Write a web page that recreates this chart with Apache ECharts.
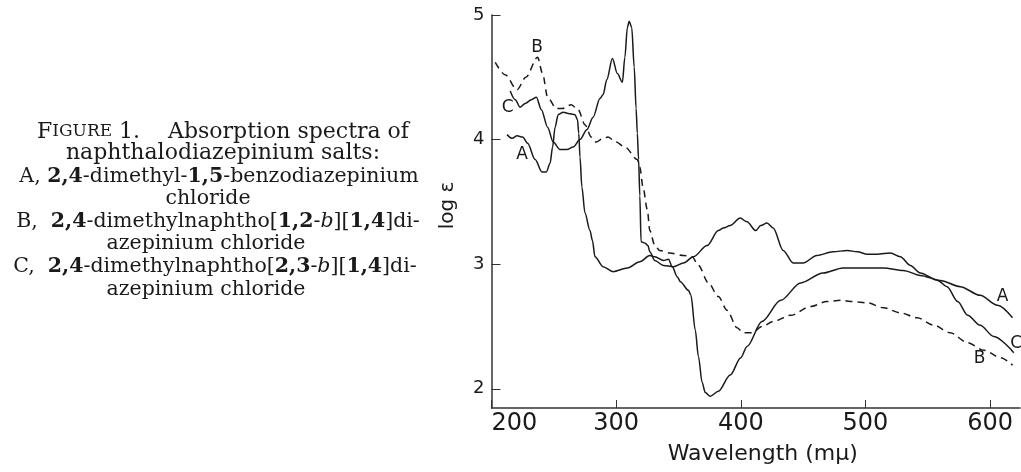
<!DOCTYPE html>
<html>
<head>
<meta charset="utf-8">
<script src="https://cdn.jsdelivr.net/npm/echarts@6/dist/echarts.min.js"></script>
<style>
  html, body { margin: 0; padding: 0; background: #fff; }
  #chart { width: 1021px; height: 472px; }
</style>
</head>
<body>
<div id="chart"></div>
<script>
// wavelength (mμ) and log ε
const waveA = [212.5, 216.5, 220.5, 225, 229, 235, 240.5, 244, 247, 249, 251, 253.5, 257.5, 261.5, 267, 269, 270, 271, 272.5, 275, 279, 281, 283, 289.5, 297.5, 309, 319, 327, 331, 338, 342, 345, 349, 351.5, 358, 360, 363.5, 366, 369, 371.5, 375.5, 382, 391.5, 400, 405, 417, 432, 448, 466, 482, 498.5, 514.5, 530.5, 544, 560, 576, 592, 606, 618];
const logA = [4.04, 4.01, 4.03, 4.02, 3.97, 3.84, 3.74, 3.74, 3.81, 3.94, 4.10, 4.20, 4.22, 4.21, 4.20, 4.16, 4.05, 3.86, 3.62, 3.41, 3.27, 3.19, 3.06, 2.98, 2.94, 2.97, 3.02, 3.07, 3.06, 3.03, 3.04, 2.98, 2.90, 2.86, 2.79, 2.75, 2.47, 2.26, 2.05, 1.97, 1.94, 1.98, 2.11, 2.25, 2.34, 2.54, 2.71, 2.85, 2.93, 2.97, 2.97, 2.97, 2.95, 2.91, 2.87, 2.82, 2.75, 2.67, 2.57];

const waveB = [203, 211, 220.5, 227.5, 237, 241, 245, 252, 257, 264, 269.5, 275, 280, 284, 289.5, 293.5, 300, 307, 317, 319, 321.5, 325, 327, 331, 335, 343, 354, 361, 366, 374, 382, 389, 397, 402, 409, 417, 426, 440, 456, 469, 480, 490, 501.5, 514.5, 528, 541.5, 555, 568, 582, 595, 608.5, 618];
const logB = [4.62, 4.52, 4.40, 4.50, 4.66, 4.53, 4.34, 4.25, 4.25, 4.28, 4.24, 4.12, 4.02, 3.98, 4.01, 4.02, 3.98, 3.94, 3.84, 3.78, 3.62, 3.44, 3.27, 3.15, 3.11, 3.09, 3.07, 3.06, 2.99, 2.85, 2.74, 2.63, 2.49, 2.45, 2.45, 2.50, 2.54, 2.59, 2.66, 2.70, 2.71, 2.70, 2.69, 2.65, 2.61, 2.57, 2.51, 2.45, 2.37, 2.31, 2.25, 2.19];

const waveC = [215, 219, 223, 227, 232, 236, 240, 245, 249.5, 255, 260.5, 265.5, 271, 276.5, 281.5, 287, 289.5, 292.5, 297, 301, 305, 307, 309, 310.5, 312.5, 314.5, 316, 317, 318, 319, 320, 323, 325.5, 327, 331, 338, 346, 354, 362, 373, 382, 386, 391.5, 399.5, 405, 412, 416, 421, 426, 434, 442, 450, 461, 474, 485.5, 493.5, 501.5, 509.5, 520, 528, 536, 544, 558, 565.5, 574, 582, 592, 603, 619];
const logC = [4.39, 4.32, 4.26, 4.29, 4.32, 4.34, 4.24, 4.10, 3.98, 3.92, 3.92, 3.94, 4.00, 4.08, 4.18, 4.33, 4.36, 4.48, 4.65, 4.53, 4.46, 4.66, 4.90, 4.95, 4.90, 4.58, 4.25, 4.05, 3.84, 3.55, 3.18, 3.17, 3.15, 3.10, 3.03, 2.99, 2.98, 3.01, 3.06, 3.15, 3.27, 3.29, 3.31, 3.37, 3.34, 3.27, 3.31, 3.33, 3.29, 3.11, 3.01, 3.01, 3.07, 3.10, 3.11, 3.10, 3.08, 3.08, 3.09, 3.06, 2.99, 2.93, 2.87, 2.82, 2.70, 2.59, 2.51, 2.42, 2.29];

const xTicks = [200, 300, 400, 500, 600];
const yTicks = [2, 3, 4, 5];

// curve letters: [wavelength, log ε]
const labelsA = [[224.5, 3.88], [610, 2.74]];
const labelsB = [[236.5, 4.74], [591.5, 2.24]];
const labelsC = [[213, 4.26], [621, 2.36]];

const caption = [
  '{sc1|F}{sc2|IGURE}{t| 1.    Absorption spectra of}',
  '{t|naphthalodiazepinium salts:}',
  '{r|A, }{bd|2,4}{r|-dimethyl-}{bd|1,5}{r|-benzodiazepinium}',
  '{r|chloride}',
  '{r|B,  }{bd|2,4}{r|-dimethylnaphtho[}{bd|1,2}{r|-}{it|b}{r|][}{bd|1,4}{r|]di-}',
  '{r|azepinium chloride}',
  '{r|C,  }{bd|2,4}{r|-dimethylnaphtho[}{bd|2,3}{r|-}{it|b}{r|][}{bd|1,4}{r|]di-}',
  '{r|azepinium chloride}'
];

const pz = (arrX, arrY) => arrX.map((x, i) => [x, arrY[i]]);

const sans = '"DejaVu Sans", sans-serif';
const serif = '"DejaVu Serif", serif';
const ink = '#1a1a1a';

const chart = echarts.init(document.getElementById('chart'));

function letterMarks(list, name) {
  return {
    symbol: 'circle',
    symbolSize: 0,
    silent: true,
    label: {
      show: true, position: 'inside', formatter: name,
      color: ink, fontFamily: sans, fontSize: 17
    },
    data: list.map(c => ({ coord: c }))
  };
}

const captionX = [223, 223, 219, 208, 218, 206, 215, 206];
const captionY = [132, 153, 177, 199, 222, 244, 267, 290];
const rich = {
  t: { fontFamily: serif, fontSize: 22, fill: ink },
  r: { fontFamily: serif, fontSize: 20.5, fill: ink },
  bd: { fontFamily: serif, fontSize: 20.5, fontWeight: 'bold', fill: ink },
  it: { fontFamily: serif, fontSize: 20.5, fontStyle: 'italic', fill: ink },
  sc1: { fontFamily: serif, fontSize: 22, fill: ink },
  sc2: { fontFamily: serif, fontSize: 17, fill: ink }
};

const option = {
  animation: false,
  backgroundColor: '#fff',
  grid: { left: 491.5, right: 1, top: 15, bottom: 64, outerBoundsMode: 'none', containLabel: false },
  xAxis: {
    type: 'value',
    min: 200, max: 624,
    name: 'Wavelength (mμ)',
    nameLocation: 'middle',
    nameGap: 35,
    nameTextStyle: { fontFamily: sans, fontSize: 22, color: ink, padding: [0, 0, 0, 14] },
    axisLine: { lineStyle: { color: '#333', width: 1.5 } },
    axisTick: { inside: true, length: 8, lineStyle: { color: '#333' }, customValues: xTicks },
    axisLabel: {
      customValues: xTicks, fontFamily: sans, fontSize: 24, color: ink,
      margin: 4, alignMinLabel: 'left'
    },
    splitLine: { show: false }
  },
  yAxis: {
    type: 'value',
    min: 1.846, max: 5,
    name: 'log ε',
    nameLocation: 'middle',
    nameGap: 34,
    nameTextStyle: { fontFamily: sans, fontSize: 20, color: ink, padding: [0, 0, 0, 12] },
    axisLine: { show: true, lineStyle: { color: '#333', width: 1.5 } },
    axisTick: { show: true, inside: true, length: 9, lineStyle: { color: '#333' }, customValues: yTicks },
    axisLabel: { customValues: yTicks, fontFamily: sans, fontSize: 18, color: ink, margin: 7 },
    splitLine: { show: false }
  },
  series: [
    {
      name: 'A', type: 'line', data: pz(waveA, logA), showSymbol: false,
      smooth: 0.3, smoothMonotone: 'x',
      lineStyle: { color: ink, width: 1.5 },
      markPoint: letterMarks(labelsA, 'A')
    },
    {
      name: 'B', type: 'line', data: pz(waveB, logB), showSymbol: false,
      smooth: 0.3, smoothMonotone: 'x',
      lineStyle: { color: ink, width: 1.5, type: [7, 5] },
      markPoint: letterMarks(labelsB, 'B')
    },
    {
      name: 'C', type: 'line', data: pz(waveC, logC), showSymbol: false,
      smooth: 0.3, smoothMonotone: 'x',
      lineStyle: { color: ink, width: 1.5 },
      markPoint: letterMarks(labelsC, 'C')
    }
  ],
  graphic: caption.map((t, i) => ({
    type: 'text',
    x: captionX[i],
    y: captionY[i],
    style: {
      text: t, rich: rich,
      fontFamily: serif, fontSize: 20.5, fill: ink,
      textAlign: 'center', textVerticalAlign: 'middle'
    }
  }))
};

chart.setOption(option);
</script>
</body>
</html>
